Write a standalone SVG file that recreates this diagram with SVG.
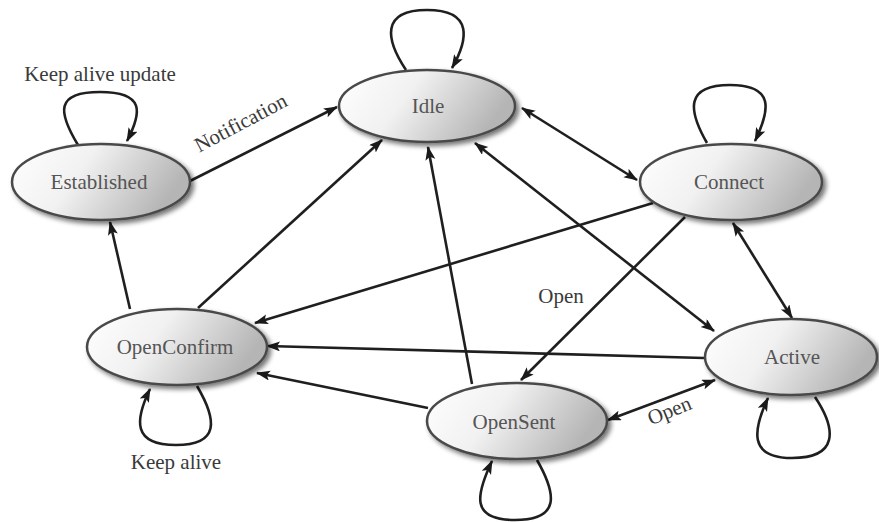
<svg xmlns="http://www.w3.org/2000/svg" width="879" height="522" viewBox="0 0 879 522">
  <defs>
    <linearGradient id="nodeFill" x1="0" y1="0" x2="1" y2="0.3">
      <stop offset="0" stop-color="#ffffff"/>
      <stop offset="0.45" stop-color="#f1f1f1"/>
      <stop offset="1" stop-color="#b5b5b5"/>
    </linearGradient>
    <filter id="shadow" x="-20%" y="-20%" width="140%" height="150%">
      <feGaussianBlur in="SourceAlpha" stdDeviation="2.5"/>
      <feOffset dx="3" dy="3" result="b"/>
      <feComponentTransfer><feFuncA type="linear" slope="0.55"/></feComponentTransfer>
      <feMerge><feMergeNode/><feMergeNode in="SourceGraphic"/></feMerge>
    </filter>
    <marker id="arrow" markerUnits="userSpaceOnUse" markerWidth="16" markerHeight="12" refX="13" refY="5" orient="auto-start-reverse">
      <path d="M0,0 L14,5 L0,10 L3,5 z" fill="#1a1a1a"/>
    </marker>
  </defs>
  <style>
    .node ellipse { fill: url(#nodeFill); stroke: #4a4a4a; stroke-width: 2.5; filter: url(#shadow); }
    .node text { font-family: "Liberation Serif", "DejaVu Serif", serif; font-size: 21px; fill: #555; text-anchor: middle; }
    .edge { fill: none; stroke: #1f1f1f; stroke-width: 2.6; marker-end: url(#arrow); }
    .both { marker-start: url(#arrow); }
    .label { font-family: "Liberation Serif", "DejaVu Serif", serif; font-size: 21px; fill: #3a3a3a; text-anchor: middle; }
  </style>
  <rect width="879" height="522" fill="#ffffff"/>

  <!-- transitions -->
  <g id="connectors">
    <path class="edge" d="M190,181 L337,107"/>
    <path class="edge both" d="M522,108 L637,180"/>
    <path class="edge" d="M198,308 L382,140"/>
    <path class="edge" d="M130,309 L110,222"/>
    <path class="edge" d="M653,203 L255,323"/>
    <path class="edge" d="M685,217 L521,380"/>
    <path class="edge both" d="M475,143 L714,331"/>
    <path class="edge both" d="M733,223 L792,318"/>
    <path class="edge" d="M704,358 L267,346"/>
    <path class="edge" d="M428,408 L257,373"/>
    <path class="edge" d="M472,384 L428,147"/>
    <path class="edge both" d="M608,420 L715,380"/>

    <!-- self loops -->
    <path class="edge" d="M78,145 C58,112 55,92 100,92 C145,92 142,112 127,141"/>
    <path class="edge" d="M406,70 C386,40 380,10 427,10 C474,10 468,40 452,68"/>
    <path class="edge" d="M707,143 C688,110 685,85 730,85 C775,85 770,110 755,141"/>
    <path class="edge" d="M197,386 C217,420 220,445 176,445 C132,445 135,420 150,389"/>
    <path class="edge" d="M537,460 C557,495 560,520 515,520 C470,520 476,495 492,461"/>
    <path class="edge" d="M815,397 C837,430 838,458 792,458 C748,458 753,430 768,398"/>

    <text class="label" x="100" y="81">Keep alive update</text>
    <text class="label" x="244" y="129" transform="rotate(-28 244 129)">Notification</text>
    <text class="label" x="561" y="303">Open</text>
    <text class="label" x="672" y="417" transform="rotate(-22 672 417)">Open</text>
    <text class="label" x="176" y="469">Keep alive</text>
  </g>

  <g id="established" class="node">
    <ellipse cx="101" cy="182" rx="89" ry="38"/>
    <text x="99" y="189">Established</text>
  </g>
  <g id="idle" class="node">
    <ellipse cx="427" cy="106" rx="88" ry="36"/>
    <text x="428" y="113">Idle</text>
  </g>
  <g id="connect" class="node">
    <ellipse cx="731" cy="182" rx="91" ry="38"/>
    <text x="729" y="189">Connect</text>
  </g>
  <g id="openconfirm" class="node">
    <ellipse cx="177" cy="347" rx="90" ry="38"/>
    <text x="175" y="354">OpenConfirm</text>
  </g>
  <g id="opensent" class="node">
    <ellipse cx="517" cy="421" rx="90" ry="38"/>
    <text x="514" y="429">OpenSent</text>
  </g>
  <g id="active" class="node">
    <ellipse cx="791" cy="357" rx="86" ry="38"/>
    <text x="792" y="364">Active</text>
  </g>
</svg>
